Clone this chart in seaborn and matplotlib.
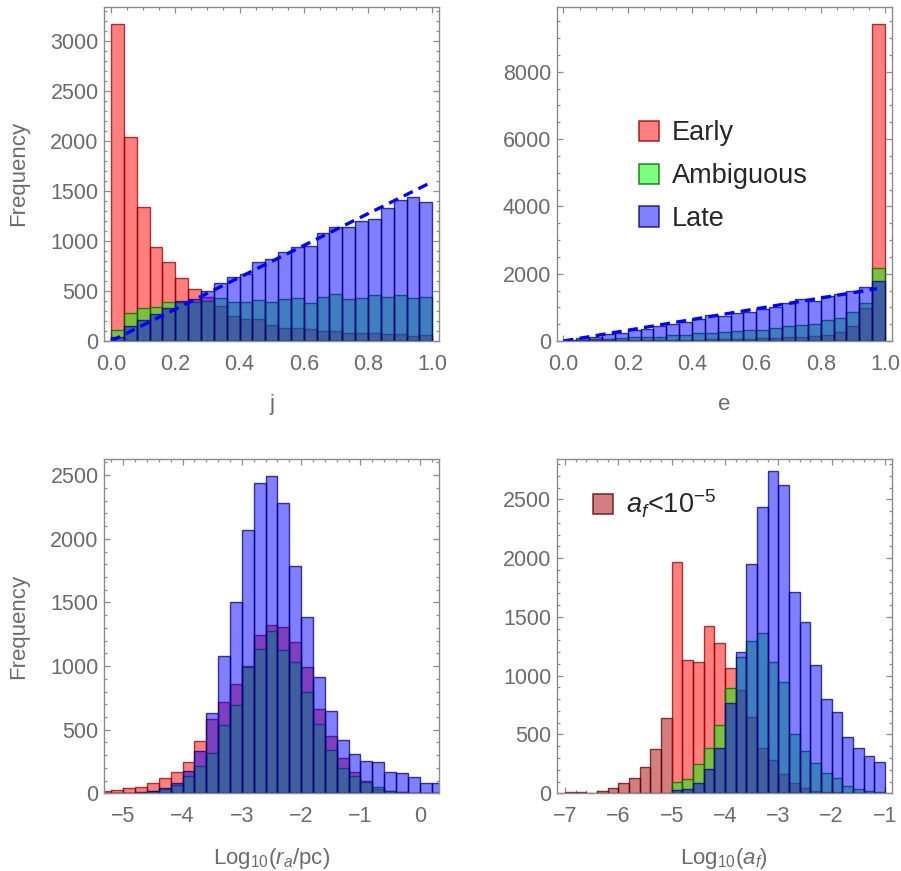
import numpy as np
import pandas as pd
import matplotlib
matplotlib.use("Agg")
import matplotlib.pyplot as plt
from matplotlib.patches import Patch
from matplotlib.ticker import MultipleLocator, FormatStrFormatter
import seaborn as sns

# ---------------- data ----------------
# panel 1: j histogram (bins of width 0.04 on [0,1])
j_bin_start, j_bin_width, j_nbins = 0.0, 0.04, 25
j_early = [3170, 2040, 1340, 940, 790, 630, 520, 435, 350, 250, 217, 217, 160,
           127, 127, 117, 100, 100, 77, 77, 77, 67, 67, 50, 60]
j_ambig = [110, 275, 327, 335, 390, 390, 385, 398, 433, 387, 393, 410, 393,
           420, 427, 377, 443, 467, 420, 433, 457, 437, 460, 427, 437]
j_late = [40, 145, 210, 265, 325, 400, 415, 497, 575, 635, 668, 790, 818,
          885, 935, 948, 1080, 1140, 1135, 1200, 1217, 1327, 1410, 1435, 1385]
j_line_x = [0.0, 1.0]
j_line_y = [0, 1590]

# panel 2: e histogram
e_bin_start, e_bin_width, e_nbins = 0.0, 0.04, 25
e_early = [10, 15, 15, 20, 20, 20, 25, 25, 30, 35, 40, 45, 50, 60, 70, 75, 90,
           110, 130, 160, 190, 260, 450, 970, 9415]
e_ambig = [0, 30, 50, 60, 80, 105, 110, 130, 170, 180, 225, 245, 265, 295, 325,
           330, 395, 445, 490, 495, 610, 680, 850, 1130, 2177]
e_late = [30, 99, 129, 208, 248, 317, 347, 455, 515, 574, 644, 762, 743, 842,
          861, 950, 1000, 1139, 1238, 1188, 1346, 1386, 1485, 1594, 1782]
e_line_x = [0.0, 0.975]
e_line_y = [0, 1555]

# panel 3: log10(r_a/pc), bins of 0.2 from -5.4 to 0.4
r_bin_start, r_bin_width, r_nbins = -5.4, 0.2, 29
r_early = [16, 26, 39, 52, 79, 118, 165, 246, 411, 581, 720, 856, 1000, 1244,
           1319, 1304, 1186, 992, 665, 453, 277, 165, 99, 35, 15, 8, 4, 2, 1]
r_ambig = [0, 0, 2, 5, 16, 31, 63, 136, 215, 314, 540, 692, 995, 1131, 1272,
           1126, 1031, 798, 545, 338, 196, 136, 86, 50, 22, 13, 6, 3, 2]
r_late = [0, 2, 5, 10, 21, 39, 84, 175, 332, 634, 1081, 1505, 2066, 2440, 2495,
          2278, 1783, 1382, 914, 644, 416, 309, 257, 246, 165, 157, 131, 79, 81]

# panel 4: log10(a_f)
a_bin_start, a_bin_width, a_nbins = -5.0, 0.2, 20
a_early = [1967, 1134, 1114, 1420, 1278, 1063, 878, 652, 383, 283, 162, 85, 48,
           23, 14, 8, 5, 3, 2, 1]
a_ambig = [94, 125, 247, 385, 581, 893, 1156, 1295, 1360, 1114, 949, 502, 363,
           255, 170, 133, 65, 34, 20, 14]
a_late = [28, 40, 85, 210, 385, 765, 1204, 1953, 2437, 2738, 2621, 1709, 1454,
          1091, 799, 689, 476, 383, 317, 269]
low_bin_start, low_bin_width, low_nbins = -7.0, 0.2, 10
a_low = [14, 9, 6, 23, 45, 85, 133, 227, 380, 640]

series_names = ["Early", "Ambiguous", "Late"]
low_label = r"$a_f$<10$^{-5}$"

# ---------------- style ----------------
sns.set_style("ticks")
plt.rcParams["font.family"] = ["Liberation Sans", "DejaVu Sans"]
plt.rcParams["mathtext.fontset"] = "custom"
plt.rcParams["mathtext.rm"] = "Liberation Sans"
plt.rcParams["mathtext.it"] = "Liberation Sans:italic"
plt.rcParams["mathtext.bf"] = "Liberation Sans:bold"

GRAY_TXT = "#6b6b6b"
GRAY_AX = "#8c8c8c"

FACE = {"Early": (1, 0, 0, 0.5), "Ambiguous": (0, 1, 0, 0.5), "Late": (0, 0, 1, 0.5),
        "low": (2 / 3, 0, 0, 0.5)}
EDGE = {"Early": (0.55, 0, 0, 0.75), "Ambiguous": (0, 0.4, 0, 0.75),
        "Late": (0, 0, 0.45, 0.75), "low": (0.35, 0, 0, 0.75)}

W, H = 901, 871
fig = plt.figure(figsize=(W / 100, H / 100), dpi=100)


def make_ax(left, top, right, bottom):
    return fig.add_axes([left / W, 1 - bottom / H, (right - left) / W, (bottom - top) / H])


ax1 = make_ax(104.3, 6.7, 439.3, 341)
ax2 = make_ax(556.7, 6.7, 891.7, 341)
ax3 = make_ax(104.3, 459.3, 439.3, 793.3)
ax4 = make_ax(556.7, 459.3, 891.7, 793.3)


def hist(ax, start, width, n, counts, key):
    centers = start + width * (np.arange(n) + 0.5)
    df = pd.DataFrame({"center": centers, "count": np.asarray(counts, dtype=float)})
    sns.histplot(data=df, x="center", weights="count", binwidth=width,
                 binrange=(start, start + n * width), ax=ax,
                 facecolor=FACE[key], edgecolor=EDGE[key], linewidth=1.0)


def style(ax, xlim, ylim, xmaj, xmin, ymaj, ymin, xlabel, ylabel):
    ax.set_xlim(*xlim)
    ax.set_ylim(*ylim)
    ax.xaxis.set_major_locator(MultipleLocator(xmaj))
    ax.xaxis.set_minor_locator(MultipleLocator(xmin))
    ax.yaxis.set_major_locator(MultipleLocator(ymaj))
    ax.yaxis.set_minor_locator(MultipleLocator(ymin))
    ax.tick_params(which="both", direction="in", top=True, right=True,
                   color=GRAY_AX, width=0.9)
    ax.tick_params(which="major", length=4.5, labelsize=15.5, labelcolor=GRAY_TXT)
    ax.tick_params(which="minor", length=2.2)
    ax.tick_params(axis="x", which="major", pad=9)
    ax.tick_params(axis="y", which="major", pad=4)
    for s in ax.spines.values():
        s.set_color(GRAY_AX)
        s.set_linewidth(1.0)
    ax.set_xlabel(xlabel, fontsize=16, color=GRAY_TXT, labelpad=14)
    ax.set_ylabel(ylabel, fontsize=16, color=GRAY_TXT, labelpad=15)


# panel 1
for name, vals in zip(series_names, [j_early, j_ambig, j_late]):
    hist(ax1, j_bin_start, j_bin_width, j_nbins, vals, name)
sns.lineplot(x=j_line_x, y=j_line_y, ax=ax1, color=(0, 0, 1), linewidth=2.4,
             linestyle=(0, (3, 1.9)))
style(ax1, (-0.021, 1.022), (0, 3340), 0.2, 0.05, 500, 100, "j", "Frequency")
ax1.xaxis.set_major_formatter(FormatStrFormatter("%.1f"))

# panel 2
for name, vals in zip(series_names, [e_early, e_ambig, e_late]):
    hist(ax2, e_bin_start, e_bin_width, e_nbins, vals, name)
sns.lineplot(x=e_line_x, y=e_line_y, ax=ax2, color=(0, 0, 1), linewidth=2.4,
             linestyle=(0, (3, 1.9)))
style(ax2, (-0.021, 1.021), (0, 9930), 0.2, 0.05, 2000, 500, "e", "")
ax2.xaxis.set_major_formatter(FormatStrFormatter("%.1f"))
handles = [Patch(facecolor=FACE[k], edgecolor=EDGE[k], linewidth=1.2) for k in series_names]
ax2.legend(handles, series_names, loc="upper left", bbox_to_anchor=(0.245, 0.66),
           frameon=False, fontsize=19.5, handlelength=0.76, handleheight=0.76,
           handletextpad=0.45, labelspacing=0.62, borderpad=0, borderaxespad=0)

# panel 3
for name, vals in zip(series_names, [r_early, r_ambig, r_late]):
    hist(ax3, r_bin_start, r_bin_width, r_nbins, vals, name)
style(ax3, (-5.32, 0.33), (0, 2625), 1, 0.2, 500, 100,
      r"Log$_{10}$($r_a$/pc)", "Frequency")

# panel 4
hist(ax4, low_bin_start, low_bin_width, low_nbins, a_low, "low")
for name, vals in zip(series_names, [a_early, a_ambig, a_late]):
    hist(ax4, a_bin_start, a_bin_width, a_nbins, vals, name)
style(ax4, (-7.156, -0.874), (0, 2840), 1, 0.2, 500, 100,
      r"Log$_{10}$($a_f$)", "")
ax4.legend([Patch(facecolor=FACE["low"], edgecolor=EDGE["low"], linewidth=1.2)],
           [low_label], loc="upper left", bbox_to_anchor=(0.108, 0.915),
           frameon=False, fontsize=19.5, handlelength=0.76, handleheight=0.76,
           handletextpad=0.45, borderpad=0, borderaxespad=0)

fig.savefig("out.png", dpi=100)
